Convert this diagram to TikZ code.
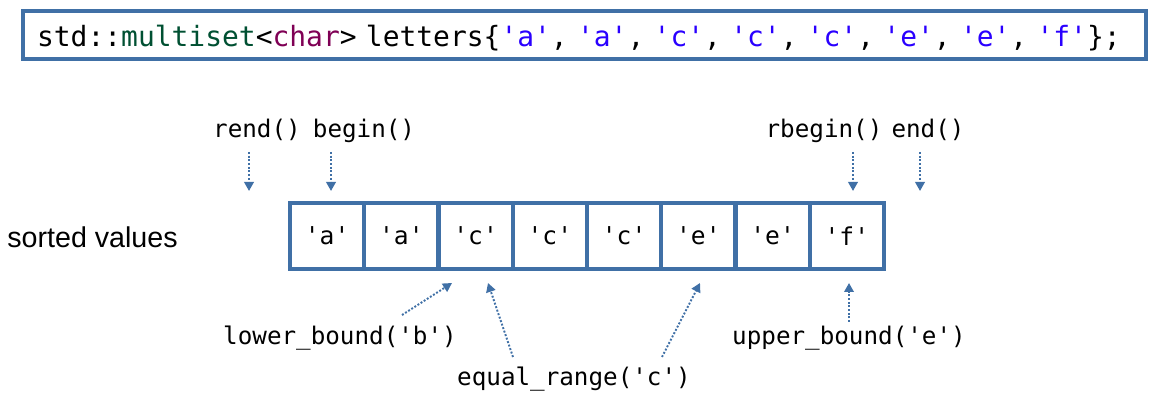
\documentclass[tikz,border=0pt]{standalone}
\usepackage{fontspec}
\setsansfont{Liberation Sans}
\setmonofont{DejaVu Sans Mono}
\usetikzlibrary{arrows.meta}
\definecolor{frameblue}{RGB}{64,112,166}
\definecolor{typegreen}{RGB}{0,80,50}
\definecolor{keyword}{RGB}{127,0,85}
\definecolor{strblue}{RGB}{42,0,255}
\newcommand{\chr}[1]{\textquotesingle#1\textquotesingle}
\newcommand{\str}[1]{\textcolor{strblue}{\chr{#1}}}
\tikzstyle{codebox}=[draw=frameblue,line width=2.3pt,minimum width=22.46cm,minimum height=0.944cm,text width=21.9cm,align=left,inner xsep=0pt,inner ysep=0pt,text height=0.48cm,text depth=0cm,font=\fontsize{15.9}{19}\ttfamily]
\tikzstyle{cell}=[draw=frameblue,line width=2.3pt,minimum width=1.485cm,minimum height=1.32cm,inner sep=0pt,font=\fontsize{14}{17}\ttfamily]
\tikzstyle{call}=[inner sep=0pt,anchor=base,font=\fontsize{13.8}{16}\ttfamily]
\tikzstyle{pointer}=[draw=frameblue,line width=1.1pt,densely dotted,-{Triangle[width=0.19cm,length=0.18cm]}]

\begin{document}
\begin{tikzpicture}[x=0.02cm,y=-0.02cm]
  \useasboundingbox (0,0) rectangle (1157,401);

  % declaration
  \node[codebox] (decl) at (584.5,35) {std::\textcolor{typegreen}{multiset}<\textcolor{keyword}{char}> letters\{\str{a}, \str{a}, \str{c}, \str{c}, \str{c}, \str{e}, \str{e}, \str{f}\};};

  % the sorted row
  \node[inner sep=0pt,anchor=base west,font=\fontsize{16.3}{19}\sffamily] (rowname) at (7,248) {sorted values};
  \foreach \i/\v in {1/a, 2/a, 3/c, 4/c, 5/c, 6/e, 7/e, 8/f}
     \node[cell] (c\i) at ({290+74.25*(\i-0.5)},236) {\chr{\v}};

  % iterator calls
  \node[call] (rendcall) at (257,138) {rend()};
  \node[call] (begincall) at (364,138) {begin()};
  \node[call] (rbegincall) at (824,138) {rbegin()};
  \node[call] (endcall) at (928,138) {end()};
  \node[call] (lowercall) at (340,345) {lower\_bound(\chr{b})};
  \node[call] (equalcall) at (574,386) {equal\_range(\chr{c})};
  \node[call] (uppercall) at (849,345) {upper\_bound(\chr{e})};

  \foreach \name/\x/\y in {rend/249/152, begin/331/152, rbegin/853/152, end/920/152,
                           lower/402/315, eqa/513/357, eqb/662/357, upper/849/322}
     \coordinate (\name-tail) at (\x,\y);
  \foreach \name/\x/\y in {rend/249/191, begin/331/191, rbegin/853/191, end/920/191,
                           lower/452/283, eqa/488/283, eqb/700/283, upper/849/283}
     \coordinate (\name-tip) at (\x,\y);

  \foreach \name in {rend, begin, rbegin, end, lower, eqa, eqb, upper}
     \path[pointer] (\name-tail) -- (\name-tip);

\end{tikzpicture}
\end{document}
